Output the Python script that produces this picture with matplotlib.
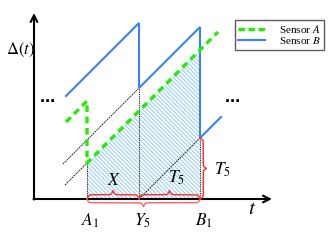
import numpy as np
import matplotlib
matplotlib.use("Agg")
import matplotlib.pyplot as plt
from matplotlib.patches import Polygon
from matplotlib.lines import Line2D

plt.rcParams['mathtext.fontset'] = 'stix'
plt.rcParams['font.family'] = ['Liberation Serif', 'DejaVu Serif']
plt.rcParams['hatch.color'] = '#9dcff2'
plt.rcParams['hatch.linewidth'] = 0.8

# ---- data (time / age units) ----
A1, Y5, B1 = 5.3, 10.5, 16.6
green_t = [3.2, 5.3, 5.3, 18.4]
green_age = [7.7, 9.8, 3.6, 16.7]
blue_t = [3.2, 10.5, 10.5, 16.6, 16.6, 18.7]
blue_age = [10.3, 17.6, 11.1, 17.2, 6.1, 8.2]
guide1_t, guide1_age = [2.9, 10.5], [3.5, 11.1]
guide2_t, guide2_age = [3.1, 5.3], [1.4, 3.6]
guide3_t, guide3_age = [10.5, 16.6], [0.0, 6.1]
vert_t = [A1, Y5, B1]
vert_top = [3.6, 11.1, 6.1]
shade_t = [A1, A1, B1, B1]
shade_age = [0.0, 3.6, 14.9, 0.0]
tick_labels = [r'$A_1$', r'$Y_5$', r'$B_1$']
series_names = ['Sensor $A$', 'Sensor $B$']

fig = plt.figure(figsize=(3.35, 2.42), dpi=100)
ax = fig.add_axes([0, 0, 1, 1])
ax.set_xlim(-3.4, 30.1)
ax.set_ylim(-4.3, 19.9)
ax.axis('off')

# hatched area
ax.add_patch(Polygon(list(zip(shade_t, shade_age)), closed=True, fill=False,
                     hatch='\\\\\\\\\\\\\\\\', edgecolor='#9dcff2', linewidth=0, zorder=1))

# guide lines
for tt, aa in [(guide1_t, guide1_age), (guide2_t, guide2_age), (guide3_t, guide3_age)]:
    ax.plot(tt, aa, color='black', lw=0.6, ls=(0, (2, 1)), zorder=2)
for t, top in zip(vert_t, vert_top):
    ax.plot([t, t], [0, top], color='black', lw=0.6, ls=(0, (1.2, 1)), zorder=2)

# series
ax.plot(blue_t, blue_age, color='#3b82f0', lw=1.5, zorder=4, solid_joinstyle='miter')
ax.plot(green_t, green_age, color='#22ee00', lw=2.4, ls=(0, (2.0, 1.4)), zorder=5)

# axes arrows
ax.annotate('', xy=(0, 18.6), xytext=(0, -0.05),
            arrowprops=dict(arrowstyle='->', lw=1.5, color='black', mutation_scale=12, shrinkA=0, shrinkB=0))
ax.annotate('', xy=(23.8, 0), xytext=(-0.05, 0),
            arrowprops=dict(arrowstyle='->', lw=1.5, color='black', mutation_scale=12, shrinkA=0, shrinkB=0))


def hbrace(x0, x1, y, h, color, beta=12, lw=1.0, alpha=1.0):
    n = 151
    xs = np.linspace(x0, x1, 2 * n - 1)
    half = xs[:n]
    yh = 1 / (1 + np.exp(-beta * (half - half[0]))) + 1 / (1 + np.exp(-beta * (half - half[-1])))
    yf = np.concatenate([yh, yh[-2::-1]])
    ax.plot(xs, y + h * (yf - 0.5), color=color, lw=lw, alpha=alpha, zorder=6)


def vbrace(y0, y1, x, w, color, beta=12, lw=1.0):
    n = 151
    ys = np.linspace(y0, y1, 2 * n - 1)
    half = ys[:n]
    xh = 1 / (1 + np.exp(-beta * (half - half[0]))) + 1 / (1 + np.exp(-beta * (half - half[-1])))
    xf = np.concatenate([xh, xh[-2::-1]])
    ax.plot(x + w * (xf - 0.5), ys, color=color, lw=lw, zorder=6)


hbrace(A1, Y5, 0.0, 0.85, '#ff2a2a')
hbrace(Y5, B1, 0.0, 0.85, '#ff2a2a')
hbrace(A1, B1, 0.0, -0.75, '#ff6060', lw=1.0)
vbrace(0.0, 6.1, B1, 0.65, '#ff2a2a')

# labels
fs = 12.5
ax.text(8.0, 1.8, r'$X$', fontsize=fs, ha='center', va='center')
ax.text(14.2, 2.1, r'$T_5$', fontsize=fs, ha='center', va='center')
ax.text(18.8, 2.9, r'$T_5$', fontsize=fs, ha='center', va='center')
for t, lab in zip(vert_t, tick_labels):
    ax.text(t + 0.35, -2.2, lab, fontsize=fs, ha='center', va='center')
ax.text(21.8, -1.0, r'$t$', fontsize=15, ha='center', va='center')
ax.text(-1.4, 14.9, r'$\Delta(t)$', fontsize=12, ha='center', va='center')
ax.text(1.3, 9.7, '⋯', fontsize=11, ha='center', va='center', fontweight='bold', family='DejaVu Sans')
ax.text(19.8, 9.7, '⋯', fontsize=11, ha='center', va='center', fontweight='bold', family='DejaVu Sans')

handles = [Line2D([], [], color='#22ee00', lw=2.4, ls=(0, (2.0, 1.0))),
           Line2D([], [], color='#3b82f0', lw=1.5)]
leg = fig.legend(handles, series_names, loc='upper right', bbox_to_anchor=(324 / 335, 1 - 20 / 242),
                 fontsize=8, frameon=True, fancybox=False, edgecolor='#333333',
                 handlelength=2.4, handletextpad=1.3, borderpad=0.3, labelspacing=0.0,
                 borderaxespad=0)
leg.get_frame().set_linewidth(1.0)

fig.savefig('out.png', dpi=100)
